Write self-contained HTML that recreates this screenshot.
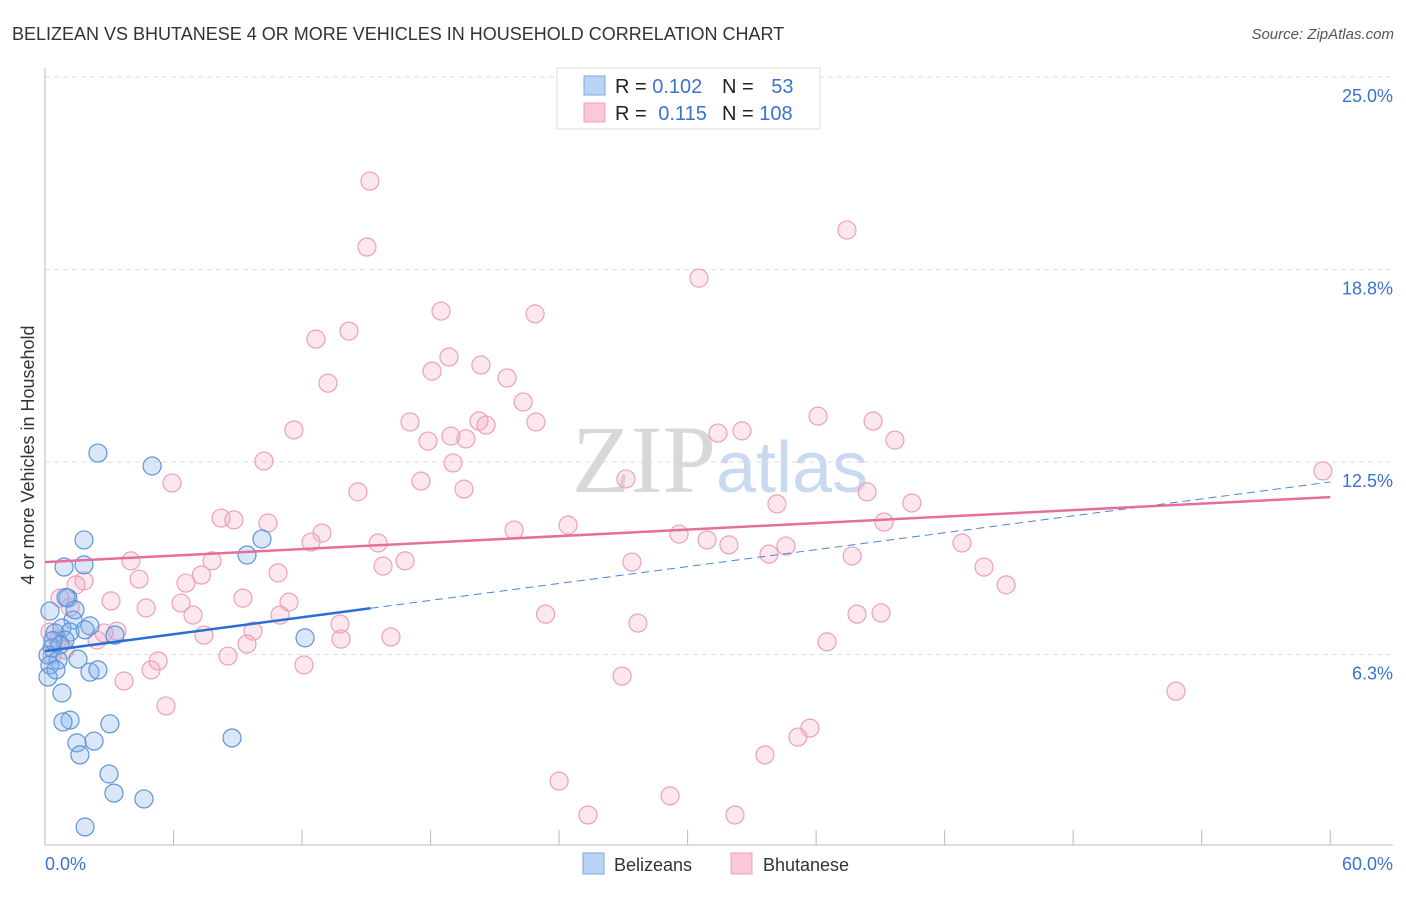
<!DOCTYPE html>
<html><head><meta charset="utf-8">
<style>
body{margin:0;background:#fff;font-family:"Liberation Sans",sans-serif;}
svg text{font-family:"Liberation Sans",sans-serif;}
</style></head>
<body>
<svg id="chart" width="1406" height="892" xmlns="http://www.w3.org/2000/svg">
<text x="12" y="40" font-size="18" fill="#333">BELIZEAN VS BHUTANESE 4 OR MORE VEHICLES IN HOUSEHOLD CORRELATION CHART</text>
<text x="1394" y="39" font-size="15" fill="#555" font-style="italic" text-anchor="end">Source: ZipAtlas.com</text>
<text x="720" y="492" font-size="96" fill="#ddd" text-anchor="middle" font-family="Liberation Serif"><tspan font-family="Liberation Serif" fill="#d8d8d8">ZIP</tspan><tspan font-family="Liberation Sans" fill="#c9daf0" font-size="72">atlas</tspan></text>
<text transform="translate(34,455) rotate(-90)" font-size="18" fill="#333" text-anchor="middle">4 or more Vehicles in Household</text>
<g id="grid"></g>
<g id="pts"></g>
<g id="lines"></g>
<g>
<rect x="557" y="68" width="263" height="61" fill="#fff" stroke="#ddd"/>
<rect x="584" y="76" width="21" height="19" fill="#b8d3f5" stroke="#7aa8e0"/>
<rect x="584" y="103" width="21" height="19" fill="#fac8d8" stroke="#eea0b8"/>
<text x="615" y="93" font-size="20" fill="#222">R = <tspan fill="#3a72d0">0.102</tspan></text>
<text x="722" y="93" font-size="20" fill="#222">N = <tspan fill="#3a72d0" dx="12">53</tspan></text>
<text x="615" y="120" font-size="20" fill="#222">R = <tspan fill="#3a72d0" dx="6">0.115</tspan></text>
<text x="722" y="120" font-size="20" fill="#222">N = <tspan fill="#3a72d0">108</tspan></text>
</g>
<g>
<rect x="583" y="853" width="21" height="21" fill="#b8d3f5" stroke="#7aa8e0"/>
<text x="614" y="871" font-size="18" fill="#333">Belizeans</text>
<rect x="731" y="853" width="21" height="21" fill="#fac8d8" stroke="#eea0b8"/>
<text x="763" y="871" font-size="18" fill="#333">Bhutanese</text>
</g>
</svg>
<script>
const yTicks=[6.3,12.5,18.8,25.0];
const yTickVals=[6.25,12.5,18.75,25];
const xTickLabels=["0.0%","60.0%"];
const blueX=[2.47,5.0,1.82,10.13,9.43,0.89,1.82,1.07,0.23,1.31,0.79,1.17,2.1,1.87,3.27,0.47,12.14,0.93,0.33,0.7,0.14,0.61,1.54,0.23,0.51,2.1,2.47,0.14,0.79,1.17,0.84,3.03,2.29,1.49,8.73,1.63,2.99,3.22,4.62,1.87,1.4,0.98,0.37];
const blueY=[12.79,12.37,9.97,10.0,9.48,9.09,9.16,8.08,7.66,7.37,7.11,6.98,7.18,7.05,6.88,6.95,6.79,6.72,6.46,6.56,6.23,6.07,6.1,5.91,5.75,5.68,5.75,5.52,5.0,4.12,4.06,4.0,3.44,3.38,3.54,2.99,2.37,1.75,1.56,0.65,7.7,8.1,6.7];
const pinkX=[15.17,15.03,37.44,30.53,18.49,22.88,12.65,14.19,18.86,20.35,18.07,13.21,21.57,22.32,17.04,18.95,19.65,20.26,20.59,22.92,17.88,11.62,31.42,32.54,36.09,38.66,39.68,10.22,19.05,17.55,19.56,27.12,14.61,5.93,38.38,34.17,40.47,59.66,8.22,8.82,10.41,12.93,12.42,15.55,21.9,24.42,29.6,30.91,31.93,39.17,34.59,33.8,37.68,42.81,4.01,7.8,15.78,16.81,27.4,43.84,44.87,4.39,6.58,7.3,10.88,1.82,1.45,3.08,6.35,9.24,11.39,4.72,6.91,10.97,23.37,37.91,39.03,1.17,0.7,13.77,27.68,3.36,2.75,7.42,9.71,16.15,13.82,9.43,36.51,2.43,8.54,5.28,4.95,12.09,3.69,26.94,52.8,5.65,35.71,35.15,33.61,24.0,29.18,25.35,32.21,0.61,0.33,0.93,0.23];
const pinkY=[21.62,19.48,20.03,18.47,17.4,17.31,16.49,16.75,15.91,15.65,15.45,15.06,15.23,14.45,13.8,13.34,13.25,13.83,13.7,13.8,13.18,13.54,13.44,13.51,13.99,13.83,13.21,12.53,12.47,11.88,11.62,11.95,11.53,11.82,11.53,11.14,11.17,12.21,10.68,10.62,10.52,10.19,9.9,9.87,10.29,10.45,10.16,9.97,9.81,10.55,9.77,9.51,9.45,9.87,9.29,9.29,9.12,9.29,9.25,9.09,8.51,8.7,8.57,8.83,8.9,8.64,8.51,7.99,7.92,8.08,7.95,7.76,7.53,7.53,7.56,7.56,7.6,7.79,8.08,7.24,7.27,7.01,6.95,6.88,7.01,6.82,6.75,6.59,6.66,6.72,6.2,6.04,5.75,5.91,5.39,5.55,5.06,4.58,3.86,3.57,2.99,2.14,1.66,1.04,1.04,6.72,6.23,6.4,6.98];
const blueFit=[6.36,11.85];
const pinkFit=[9.25,11.36];
const blueSolidEnd=15.2;

const NS="http://www.w3.org/2000/svg";
const X=v=>45+v*21.42;
const Y=v=>847-v*30.8;
function mk(tag,attrs,parent){const e=document.createElementNS(NS,tag);for(const k in attrs)e.setAttribute(k,attrs[k]);parent.appendChild(e);return e;}
const grid=document.getElementById('grid');
yTickVals.forEach((v,i)=>{
 const l=mk('line',{x1:45,x2:1393,y1:Y(v),y2:Y(v),stroke:'#ddd','stroke-dasharray':'5,4'},grid);
 
 
 const t=mk('text',{x:1393,y:Y(v)+25,'font-size':18,fill:'#3a72d0','text-anchor':'end'},grid);
 t.textContent=yTicks[i].toFixed(1)+'%';
 
 
});
const ax=mk('line',{x1:45,x2:1393,y1:845,y2:845,stroke:'#bbb'},grid);


const ay=mk('line',{x1:45,x2:45,y1:68,y2:845,stroke:'#bbb'},grid);


for(let i=1;i<=10;i++){
 const tk=mk('line',{x1:X(i*6),x2:X(i*6),y1:830,y2:845,stroke:'#bbb'},grid);
 
 
}
const t0=mk('text',{x:45,y:870,'font-size':18,fill:'#3a72d0'},grid);
t0.textContent=xTickLabels[0];


const t1=mk('text',{x:1393,y:870,'font-size':18,fill:'#3a72d0','text-anchor':'end'},grid);
t1.textContent=xTickLabels[1];



const pts=document.getElementById('pts');
pinkX.forEach((x,i)=>{
 const c=mk('circle',{cx:X(x),cy:Y(pinkY[i]),r:9,fill:'rgba(245,170,195,0.28)',stroke:'#eda0b8','stroke-width':1.2},pts);
 
 
});
blueX.forEach((x,i)=>{
 const c=mk('circle',{cx:X(x),cy:Y(blueY[i]),r:9,fill:'rgba(130,175,235,0.3)',stroke:'#5d95d8','stroke-width':1.2},pts);
 
 
});
const lines=document.getElementById('lines');
const bf=v=>blueFit[0]+(blueFit[1]-blueFit[0])*v/60;
const pf=v=>pinkFit[0]+(pinkFit[1]-pinkFit[0])*v/60;
const bd=mk('line',{x1:X(blueSolidEnd),y1:Y(bf(blueSolidEnd)),x2:X(60),y2:Y(bf(60)),stroke:'#4a86d8','stroke-width':1,'stroke-dasharray':'8,5'},lines);


const bs=mk('line',{x1:X(0),y1:Y(bf(0)),x2:X(blueSolidEnd),y2:Y(bf(blueSolidEnd)),stroke:'#2a6fd6','stroke-width':2.5},lines);


const ps=mk('line',{x1:X(0),y1:Y(pf(0)),x2:X(60),y2:Y(pf(60)),stroke:'#e4709a','stroke-width':2.5},lines);


</script>
</body></html>
